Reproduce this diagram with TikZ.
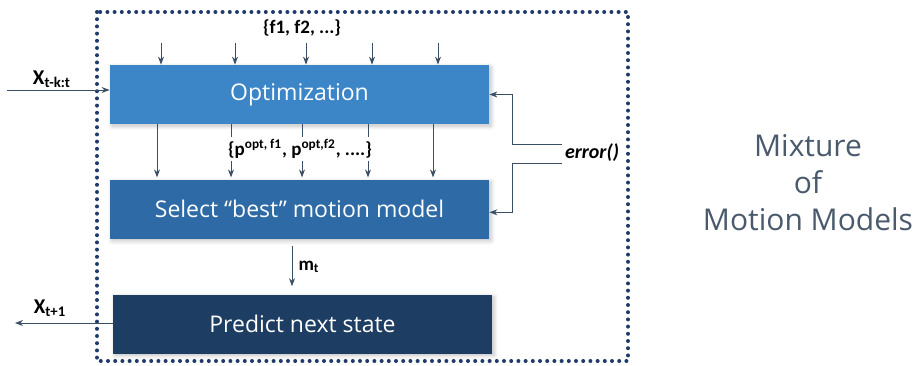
\documentclass[tikz,border=0pt]{standalone}
\usepackage{fontspec}
\setmainfont{Open Sans}
\newfontfamily\labelfont{Carlito}
\usepackage{xcolor}
\definecolor{optBlue}{HTML}{3C86C8}
\definecolor{selectBlue}{HTML}{2D6AA6}
\definecolor{predictNavy}{HTML}{1D3D62}
\definecolor{lineGray}{HTML}{3A4F66}
\definecolor{frameNavy}{HTML}{1F3A6B}
\definecolor{titleSlate}{HTML}{4A5A6C}
\usetikzlibrary{
    arrows.meta,
    shadows.blur,
    positioning,
    calc
}
\tikzset{
    % Base style for the three blocks
    block base/.style={
        rectangle,
        text=white,
        font=\fontsize{11.5}{13}\selectfont,
        minimum width=189.5pt,
        minimum height=29.5pt,
        inner sep=0pt,
        blur shadow={
            shadow xshift=1pt,
            shadow yshift=-1pt,
            shadow blur steps=4,
            shadow opacity=25
        },
    },
    % Optimization block
    opt block/.style={block base, fill=optBlue},
    % Selection block
    select block/.style={block base, fill=selectBlue},
    % Prediction block
    predict block/.style={block base, fill=predictNavy},
    % Thin arrow
    arrow/.style={
        -{Stealth[length=4pt, width=3pt]},
        line width=0.5pt,
        draw=lineGray,
    },
    % Dotted frame round the blocks
    frame/.style={
        draw=frameNavy,
        line width=2pt,
        line cap=round,
        dash pattern=on 0pt off 3.6pt,
    },
    % Bold labels on the arrows
    edge label/.style={
        font=\labelfont\bfseries\fontsize{9.5}{11}\selectfont,
        text=black,
        inner sep=1pt,
    },
}

\begin{document}
\begin{tikzpicture}[x=0.5pt, y=-0.5pt]
    \useasboundingbox (0,0) rectangle (919,365);

    \draw [frame] (97,12) rectangle (628,361);

    \node (opt) [opt block] at (299.5,94.5) {Optimization};
    \node (select) [select block, below=27.5pt of opt] {Select “best” motion model};
    \node (predict) [predict block, below=27.5pt of select, xshift=1.5pt] {Predict next state};

    % candidate models entering the optimization
    \node (models) [edge label] at (302,28) {\{f1, f2, ...\}};
    \foreach \x in {161,235,306,372,438}
        \draw [arrow] (\x,43) -- (\x,0 |- opt.north);

    % optimized parameters
    \foreach \x in {157,231,302,368,433}
        \draw [arrow] (opt.south -| \x,0) -- ([yshift=1pt]select.north -| \x,0);
    \node (params) [edge label, fill=white] at (300,149)
        {\{p\textsuperscript{opt, f1}, p\textsuperscript{opt,f2}, ....\}};

    % chosen model
    \draw [arrow, shorten <=3.5pt, shorten >=4pt] (select.south -| 292,0) -- node[edge label, anchor=west, xshift=2pt] {m\textsubscript{t}} (predict.north -| 292,0);

    % input and output states
    \coordinate (x_in) at (7,90);
    \coordinate (x_out) at (15,323);
    \node (x_in_label) [edge label, font=\labelfont\bfseries\fontsize{10.5}{12}\selectfont] at (52,79) {X\textsubscript{t-k:t}};
    \node (x_out_label) [edge label, font=\labelfont\bfseries\fontsize{10.5}{12}\selectfont] at (50,308) {X\textsubscript{t+1}};
    \draw [arrow] (x_in) -- (x_in -| opt.west);
    \draw [arrow] (predict.west |- x_out) -- (x_out);

    % error feedback
    \node (err) [edge label, font=\labelfont\bfseries\itshape\fontsize{10}{12}\selectfont] at (592,153) {error()};
    \coordinate (err_up) at (562,144);
    \coordinate (err_down) at (562,163);
    \draw [arrow] (err_up) -- ++(-50,0) |- (opt.east);
    \draw [arrow] (err_down) -- ++(-50,0) |- ([yshift=-1.5pt]select.east);

    % title
    \node (title) [align=center, text=titleSlate, font=\fontsize{15}{18.5}\selectfont] at (808,183)
        {Mixture\\of\\Motion Models};
\end{tikzpicture}
\end{document}
